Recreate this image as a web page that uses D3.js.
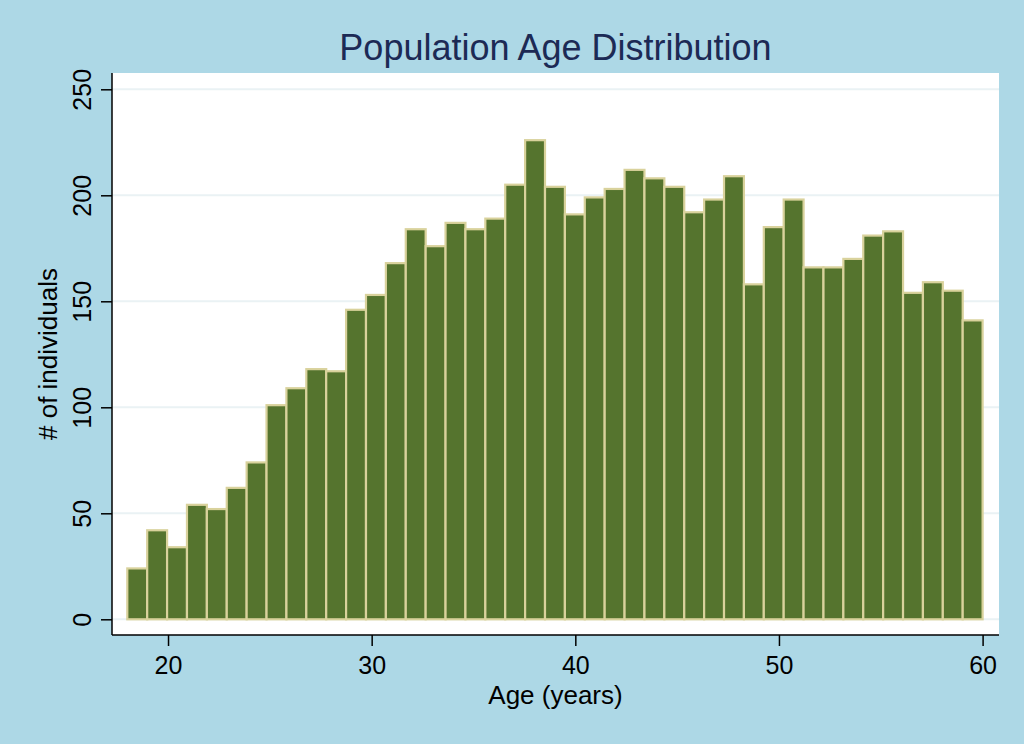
<!DOCTYPE html>
<html>
<head>
<meta charset="utf-8">
<script src="https://d3js.org/d3.v7.min.js"></script>
<style>
  body { margin: 0; background: #add8e6; }
  text { font-family: "Liberation Sans", Arial, sans-serif; }
</style>
</head>
<body>
<script>
// Histogram data: 43 equal bins between 18 and 60 years
var binMin = 18;
var binMax = 60;
var counts = [
  24, 42, 34, 54, 52, 62, 74, 101, 109, 118, 117, 146, 153, 168, 184, 176,
  187, 184, 189, 205, 226, 204, 191, 199, 203, 212, 208, 204, 192, 198, 209,
  158, 185, 198, 166, 166, 170, 181, 183, 154, 159, 155, 141
];
var xTicks = [20, 30, 40, 50, 60];
var yTicks = [0, 50, 100, 150, 200, 250];

var W = 1024, H = 744;

var svgContainer = d3
  .select("body")
  .append("svg")
  .attr("width", W)
  .attr("height", H);

// outer background
svgContainer
  .append("rect")
  .attr("width", W)
  .attr("height", H)
  .attr("fill", "#add8e6");

// plot region
var plot = { left: 112, top: 73, right: 999, bottom: 635 };

svgContainer
  .append("rect")
  .attr("x", plot.left)
  .attr("y", plot.top)
  .attr("width", plot.right - plot.left)
  .attr("height", plot.bottom - plot.top)
  .attr("fill", "#ffffff");

var xScale = d3.scaleLinear().domain([binMin, binMax]).range([127.3, 982.6]);
var yScale = d3.scaleLinear().domain([0, 250]).range([619.3, 89.3]);

var binWidth = (binMax - binMin) / counts.length;

// grid lines
svgContainer
  .append("g")
  .selectAll("line")
  .data(yTicks)
  .enter()
  .append("line")
  .attr("x1", plot.left)
  .attr("x2", plot.right)
  .attr("y1", function (d) { return yScale(d); })
  .attr("y2", function (d) { return yScale(d); })
  .attr("stroke", "#eaf2f4")
  .attr("stroke-width", 2);

// bars
svgContainer
  .append("g")
  .selectAll("rect")
  .data(counts)
  .enter()
  .append("rect")
  .attr("x", function (d, i) { return xScale(binMin + i * binWidth); })
  .attr("width", function (d, i) {
    return xScale(binMin + (i + 1) * binWidth) - xScale(binMin + i * binWidth);
  })
  .attr("y", function (d) { return yScale(d); })
  .attr("height", function (d) { return yScale(0) - yScale(d); })
  .attr("fill", "#55742e")
  .attr("stroke", "#d9d29c")
  .attr("stroke-width", 2.2);

// Y axis
var yAxisGen = d3.axisLeft(yScale).tickValues(yTicks).tickSize(11).tickPadding(6);
var yAxis = svgContainer
  .append("g")
  .attr("transform", "translate(" + plot.left + ",0)")
  .call(yAxisGen);
yAxis.select(".domain").remove();
yAxis.selectAll(".tick line").attr("stroke", "#000").attr("stroke-width", 1.5);
yAxis
  .selectAll(".tick text")
  .attr("font-size", 25)
  .attr("fill", "#000")
  .attr("text-anchor", "middle")
  .attr("x", 0)
  .attr("dy", 0)
  .attr("transform", "translate(-21,0) rotate(-90)");

svgContainer
  .append("line")
  .attr("x1", plot.left)
  .attr("x2", plot.left)
  .attr("y1", plot.top)
  .attr("y2", plot.bottom)
  .attr("stroke", "#000")
  .attr("stroke-width", 1.5);

// X axis
var xAxisGen = d3.axisBottom(xScale).tickValues(xTicks).tickSize(11).tickPadding(5);
var xAxis = svgContainer
  .append("g")
  .attr("transform", "translate(0," + plot.bottom + ")")
  .call(xAxisGen);
xAxis.select(".domain").remove();
xAxis.selectAll(".tick line").attr("stroke", "#000").attr("stroke-width", 1.5);
xAxis
  .selectAll(".tick text")
  .attr("font-size", 25)
  .attr("fill", "#000")
  .attr("dy", 0)
  .attr("y", 39);

svgContainer
  .append("line")
  .attr("x1", plot.left)
  .attr("x2", plot.right)
  .attr("y1", plot.bottom)
  .attr("y2", plot.bottom)
  .attr("stroke", "#000")
  .attr("stroke-width", 1.5);

// titles
svgContainer
  .append("text")
  .attr("x", (plot.left + plot.right) / 2)
  .attr("y", 60)
  .attr("text-anchor", "middle")
  .attr("font-size", 36)
  .attr("fill", "#1c2a55")
  .text("Population Age Distribution");

svgContainer
  .append("text")
  .attr("x", (plot.left + plot.right) / 2)
  .attr("y", 704)
  .attr("text-anchor", "middle")
  .attr("font-size", 26)
  .attr("fill", "#000")
  .text("Age (years)");

svgContainer
  .append("text")
  .attr("transform", "translate(57," + (plot.top + plot.bottom) / 2 + ") rotate(-90)")
  .attr("text-anchor", "middle")
  .attr("font-size", 26)
  .attr("fill", "#000")
  .text("# of individuals");
</script>
</body>
</html>
